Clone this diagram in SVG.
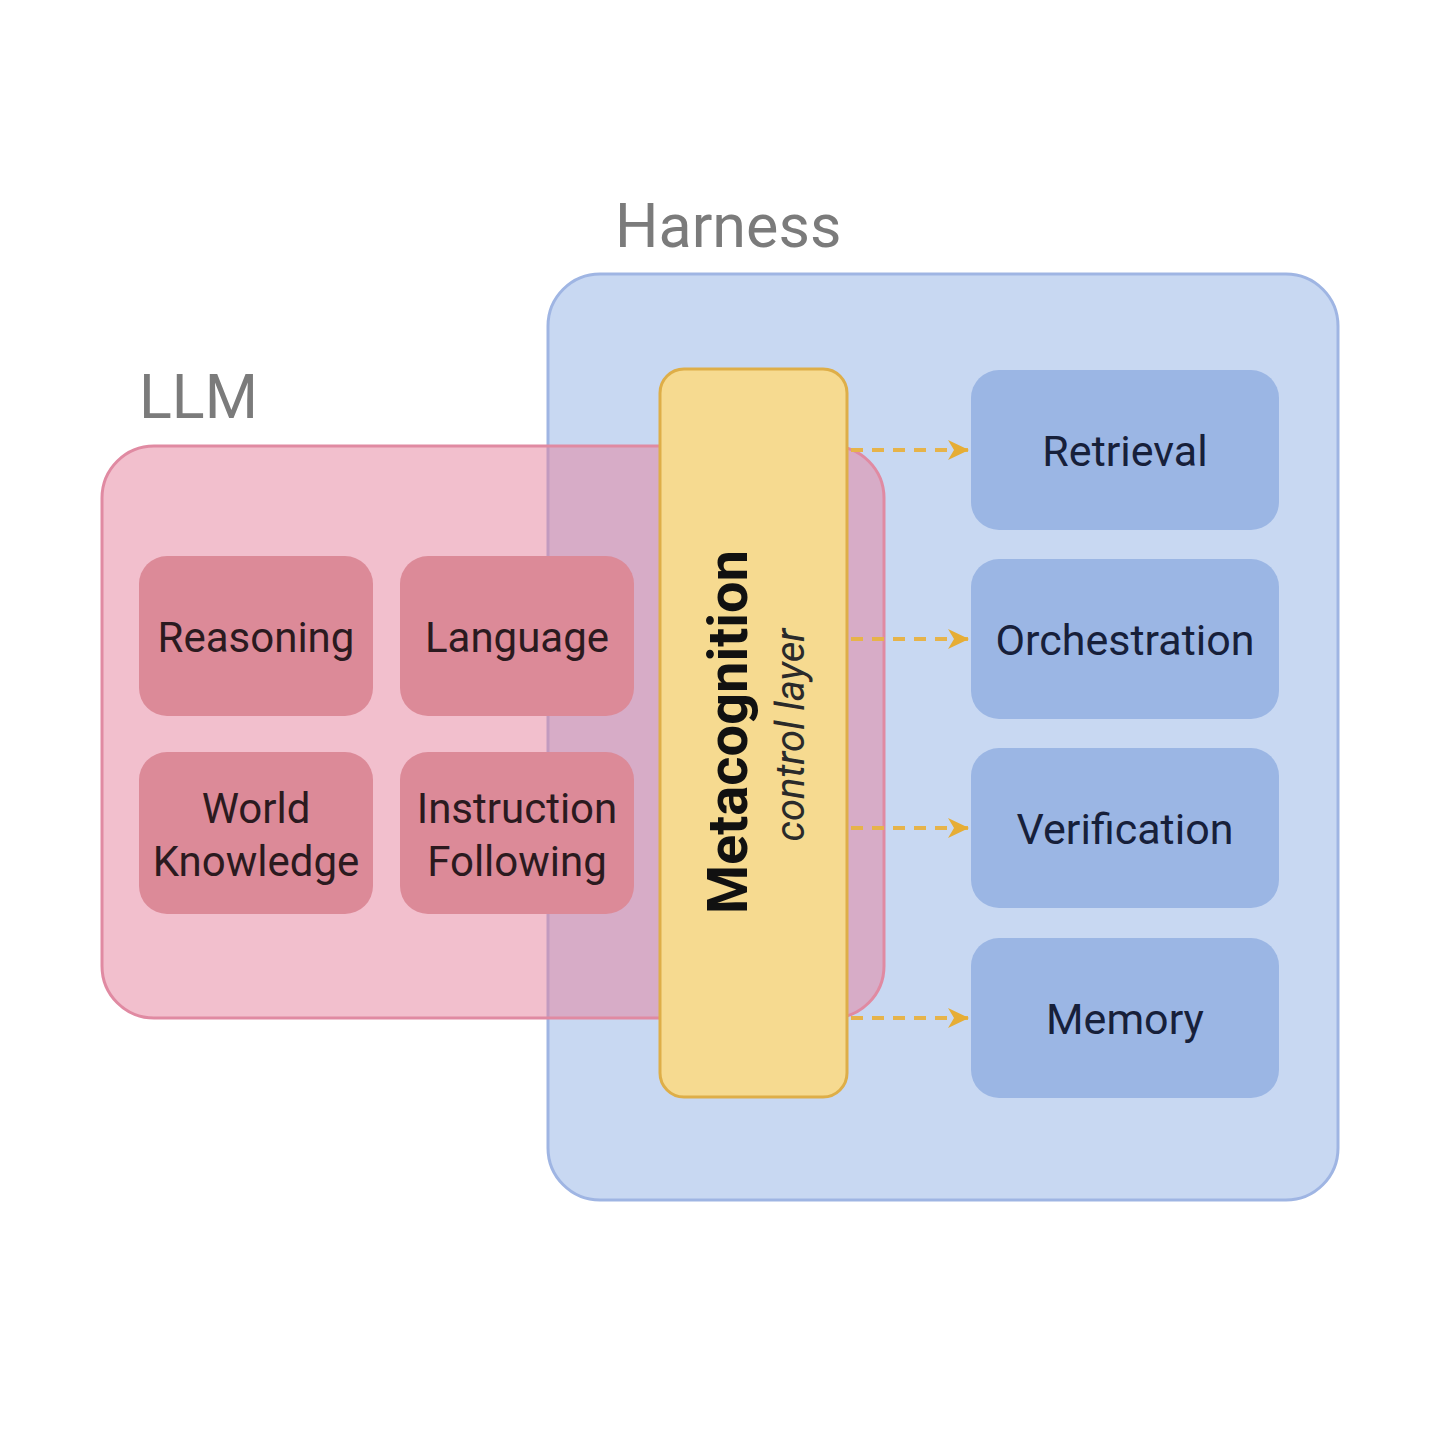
<svg xmlns="http://www.w3.org/2000/svg" width="1440" height="1440" viewBox="0 0 1440 1440">
<defs>
<style>
.lbl{font-family:Roboto,"Liberation Sans",sans-serif;fill:#7b7b7b;font-size:61px}
.pt{font-family:Roboto,"Liberation Sans",sans-serif;fill:#2b1a1f;font-size:42px;text-anchor:middle}
.bt{font-family:Roboto,"Liberation Sans",sans-serif;fill:#17203a;font-size:43px;text-anchor:middle}
.pbox{fill:#dc8a98}
.bbox{fill:#9bb6e4}
.conn{stroke:#e6b34a;stroke-width:4;stroke-dasharray:12 9;fill:none}
</style>
<marker id="ah" viewBox="0 0 24 24" refX="22" refY="12" markerWidth="24" markerHeight="24" markerUnits="userSpaceOnUse" orient="auto">
<path d="M2,2 L23,12 L2,22 L8,12 Z" fill="#e6ad35"/>
</marker>
</defs>
<rect width="1440" height="1440" fill="#ffffff"/>
<g id="harness">
<rect x="548" y="274" width="790" height="926" rx="52" fill="#c8d8f2" stroke="#9fb5e3" stroke-width="3"/>
<text class="lbl" x="615" y="247">Harness</text>
</g>
<g id="llm">
<rect x="102" y="446" width="782" height="572" rx="52" fill="#e6809b" fill-opacity="0.5" stroke="#e08aa2" stroke-width="3"/>
<text class="lbl" x="139" y="418">LLM</text>
</g>
<g id="reasoning">
<rect class="pbox" x="139" y="556" width="234" height="160" rx="28"/>
<text class="pt" x="256" y="652">Reasoning</text>
</g>
<g id="language">
<rect class="pbox" x="400" y="556" width="234" height="160" rx="28"/>
<text class="pt" x="517" y="652">Language</text>
</g>
<g id="world-knowledge">
<rect class="pbox" x="139" y="752" width="234" height="162" rx="28"/>
<text class="pt" x="256" y="823">World</text>
<text class="pt" x="256" y="876">Knowledge</text>
</g>
<g id="instruction-following">
<rect class="pbox" x="400" y="752" width="234" height="162" rx="28"/>
<text class="pt" x="517" y="823">Instruction</text>
<text class="pt" x="517" y="876">Following</text>
</g>
<g id="metacognition">
<rect x="660" y="369" width="187" height="728" rx="24" fill="#f6da90" stroke="#deae48" stroke-width="3"/>
<text x="0" y="0" transform="translate(747 732) rotate(-90)" font-family="Roboto,'Liberation Sans',sans-serif" font-weight="bold" font-size="56" fill="#111111" text-anchor="middle">Metacognition</text>
<text x="0" y="0" transform="translate(804 735) rotate(-90)" font-family="Roboto,'Liberation Sans',sans-serif" font-style="italic" font-size="40" fill="#2a2a2a" text-anchor="middle">control layer</text>
</g>
<g id="retrieval">
<rect class="bbox" x="971" y="370" width="308" height="160" rx="28"/>
<text class="bt" x="1125" y="466">Retrieval</text>
</g>
<g id="orchestration">
<rect class="bbox" x="971" y="559" width="308" height="160" rx="28"/>
<text class="bt" x="1125" y="655">Orchestration</text>
</g>
<g id="verification">
<rect class="bbox" x="971" y="748" width="308" height="160" rx="28"/>
<text class="bt" x="1125" y="844">Verification</text>
</g>
<g id="memory">
<rect class="bbox" x="971" y="938" width="308" height="160" rx="28"/>
<text class="bt" x="1125" y="1034">Memory</text>
</g>
<g id="connectors">
<line class="conn" x1="851" y1="450" x2="968" y2="450" marker-end="url(#ah)"/>
<line class="conn" x1="851" y1="639" x2="968" y2="639" marker-end="url(#ah)"/>
<line class="conn" x1="851" y1="828" x2="968" y2="828" marker-end="url(#ah)"/>
<line class="conn" x1="851" y1="1018" x2="968" y2="1018" marker-end="url(#ah)"/>
</g>
</svg>
